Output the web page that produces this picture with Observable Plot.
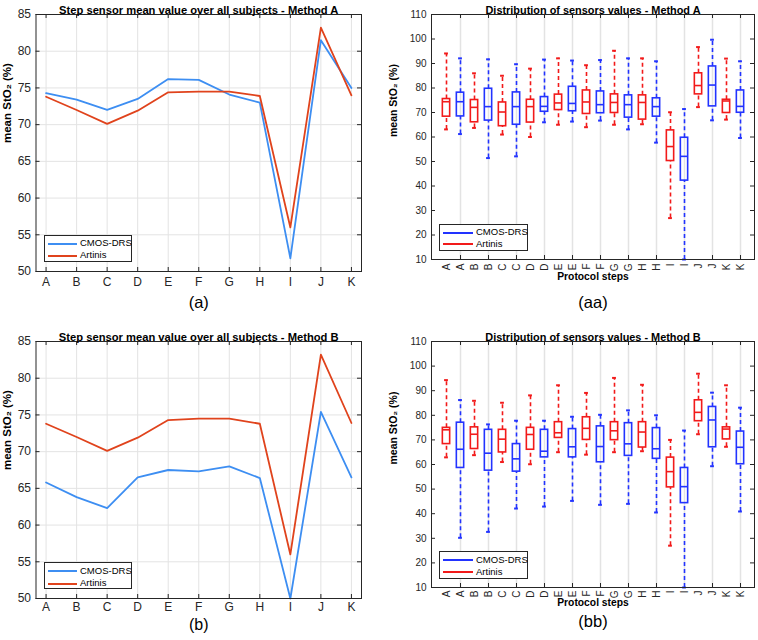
<!DOCTYPE html>
<html><head><meta charset="utf-8">
<script src="https://cdn.jsdelivr.net/npm/d3@7"></script>
<script src="https://cdn.jsdelivr.net/npm/@observablehq/plot@0.6"></script>
<style>
body{margin:0;background:#fff;font-family:"Liberation Sans",Arial,sans-serif}
#root{position:relative;width:758px;height:640px;overflow:hidden;background:#fff}
.panel{position:absolute}
.legend{position:absolute;border:1px solid #262626;background:#fff;box-sizing:border-box;font-size:9.5px;color:#000}
.legend .ln{position:absolute;height:0}
.legend .tx{position:absolute;line-height:1;white-space:nowrap}
</style></head><body><div id="root"></div>
<script>
// ---------- data ----------
const steps = ["A","B","C","D","E","F","G","H","I","J","K"];
const cmosMeanA    = [74.3,73.4,72.0,73.5,76.2,76.1,74.1,73.0,51.8,81.5,75.0];
const artinisMeanA = [73.8,72.0,70.1,71.9,74.4,74.5,74.5,73.9,56.0,83.2,74.0];
const cmosMeanB    = [65.8,63.8,62.3,66.5,67.5,67.3,68.0,66.4,50.0,75.4,66.5];
const artinisMeanB = [73.8,72.0,70.1,71.9,74.3,74.5,74.5,73.8,56.0,83.2,73.9];
// box stats per step: [lower whisker, q1, median, q3, upper whisker]
const artinisBoxA = [[63.1,68.3,74.4,75.5,94.1],[63.7,66.0,72.1,75.1,86.0],[61.0,64.4,70.2,74.1,85.0],[60.0,65.9,72.4,75.2,87.9],[65.0,71.0,73.9,77.3,92.1],[64.0,69.4,74.3,79.0,89.3],[65.0,69.8,74.1,77.4,95.2],[65.2,67.1,74.1,77.0,92.1],[26.9,50.2,56.1,62.7,70.1],[72.2,77.4,81.0,86.0,96.7],[67.1,69.8,74.7,75.2,92.0]];
const cmosBoxA    = [[61.2,68.4,74.4,78.1,92.1],[51.4,66.7,72.4,79.7,91.7],[52.1,65.0,72.4,78.2,89.7],[66.0,70.3,72.5,76.3,91.6],[66.3,70.5,73.7,80.5,91.2],[66.7,69.7,73.2,78.6,91.4],[63.1,67.9,73.2,77.0,92.1],[57.7,68.3,72.4,75.8,90.9],[10.0,42.2,52.1,59.7,71.4],[66.8,72.5,81.2,88.8,99.7],[59.6,69.9,72.5,79.0,90.9]];
const artinisBoxB = [[62.9,68.3,74.1,74.9,94.3],[63.8,66.3,72.3,75.1,85.9],[61.0,64.9,70.3,74.1,85.1],[60.1,66.0,72.2,74.9,88.1],[65.0,70.8,72.9,77.2,92.2],[64.0,70.0,74.7,79.2,89.1],[65.0,69.9,73.7,77.2,95.2],[65.4,66.9,73.2,77.2,92.4],[27.0,50.7,57.1,62.8,70.0],[72.3,77.6,81.2,86.1,96.9],[67.2,70.2,74.4,75.1,92.2]];
const cmosBoxB    = [[30.2,58.6,66.2,77.0,86.2],[32.6,57.5,64.6,74.1,76.3],[42.1,57.1,62.3,68.3,77.8],[42.9,62.9,65.4,74.1,77.8],[45.2,62.9,67.2,74.4,79.4],[43.6,60.9,67.3,75.5,80.2],[44.0,63.5,68.4,76.8,82.0],[40.5,62.3,66.4,74.8,80.0],[10.0,44.3,51.0,58.6,73.8],[59.3,67.0,78.1,83.4,89.2],[40.9,60.1,67.0,73.4,83.1]];
const lineTicks = [50,55,60,65,70,75,80,85];
const boxTicks = [10,20,30,40,50,60,70,80,90,100,110];
const seriesNames = ["CMOS-DRS","Artinis"];

// ---------- style ----------
const lineBlue = "#3d8ef2", lineRed = "#e0431c";
const boxBlue = "#2233ff", boxRed = "#f21a1a";
const ink = "#262626", gridC = "#e3e3e3";
const FONT = "Liberation Sans, Arial, sans-serif";
const W = 379, H = 320;
const root = document.getElementById("root");

function place(node, left, top) {
  node.classList.add("panel");
  node.style.left = left + "px"; node.style.top = top + "px";
  root.appendChild(node);
}
function legend(left, top, w, h, colors, lineX, lineW, textX, rowOff) {
  const d = document.createElement("div");
  d.className = "legend";
  Object.assign(d.style, {left: left+"px", top: top+"px", width: w+"px", height: h+"px"});
  seriesNames.forEach((n, k) => {
    const l = document.createElement("div"); l.className = "ln";
    Object.assign(l.style, {left: lineX+"px", top: (rowOff[k]-1)+"px", width: lineW+"px", borderTop: "2px solid " + colors[k]});
    const t = document.createElement("div"); t.className = "tx"; t.textContent = n;
    Object.assign(t.style, {left: textX+"px", top: (rowOff[k]-5.5)+"px"});
    d.appendChild(l); d.appendChild(t);
  });
  root.appendChild(d);
}

function linePanel({cmos, art, title, cap, mt, mb, titleY, capY, tickPad, capSize}) {
  const ml = 35.5, mr = 18;
  const iw = W - ml - mr, ih = H - mt - mb;
  const idx = d3.range(steps.length);
  const cm = idx.map(i => ({i, v: cmos[i]}));
  const ar = idx.map(i => ({i, v: art[i]}));
  return Plot.plot({
    width: W, height: H, marginLeft: ml, marginRight: mr, marginTop: mt, marginBottom: mb,
    style: {fontFamily: FONT, fontSize: "12px", background: "transparent", color: ink, overflow: "visible"},
    x: {type: "linear", domain: [-0.33, 10.33]},
    y: {domain: [50, 85]},
    marks: [
      Plot.gridX(idx, {stroke: gridC, strokeOpacity: 1}),
      Plot.gridY(lineTicks, {stroke: gridC, strokeOpacity: 1}),
      Plot.axisX(idx, {tickFormat: i => steps[i], tickSize: 0, tickPadding: tickPad, label: null, fontSize: 12}),
      Plot.axisY(lineTicks, {tickSize: 0, tickPadding: 5, label: null, fontSize: 12}),
      Plot.ruleY(lineTicks, {y: d => d, insetRight: iw - 4, stroke: ink}),
      Plot.ruleY(lineTicks, {y: d => d, insetLeft: iw - 4, stroke: ink}),
      Plot.ruleX(idx, {x: d => d, insetTop: ih - 4, stroke: ink}),
      Plot.ruleX(idx, {x: d => d, insetBottom: ih - 4, stroke: ink}),
      Plot.line(cm, {x: "i", y: "v", stroke: lineBlue, strokeWidth: 1.8}),
      Plot.line(ar, {x: "i", y: "v", stroke: lineRed, strokeWidth: 1.8}),
      Plot.frame({stroke: ink}),
      Plot.text([title], {frameAnchor: "top", dy: titleY - mt, fontWeight: "bold", fontSize: 11.2, fill: "#000"}),
      Plot.text(["mean StO₂ (%)"], {frameAnchor: "left", dx: 7 - ml, rotate: -90, fontWeight: "bold", fontSize: 11.5, fill: "#000"}),
      Plot.text([cap], {frameAnchor: "bottom", dy: capY - (H - mb), fontSize: capSize, fill: "#000"})
    ]
  });
}

function boxPanel({cmos, art, title, cap, mt, mb, titleY, capY, xlabY, tickPad}) {
  const ml = 52, mr = 4;
  const iw = W - ml - mr, ih = H - mt - mb;
  const rows = [];
  steps.forEach((s, k) => {
    const a = art[k], c = cmos[k];
    rows.push({i: 2*k, lab: s, col: boxRed, lo: a[0], q1: a[1], med: a[2], q3: a[3], hi: a[4]});
    rows.push({i: 2*k+1, lab: s, col: boxBlue, lo: c[0], q1: c[1], med: c[2], q3: c[3], hi: c[4]});
  });
  const all = rows.map(r => r.i);
  const odd = all.filter(i => i % 2 === 1);
  const bw = iw / rows.length;
  const boxIn = (bw - 8) / 2, capIn = (bw - 4.5) / 2;
  return Plot.plot({
    width: W, height: H, marginLeft: ml, marginRight: mr, marginTop: mt, marginBottom: mb,
    style: {fontFamily: FONT, fontSize: "10px", background: "transparent", color: ink, overflow: "visible"},
    x: {type: "band", domain: all, padding: 0},
    y: {domain: [10, 110]},
    color: {type: "identity"},
    marks: [
      Plot.gridX(odd, {stroke: gridC, strokeOpacity: 1, strokeWidth: 1.5}),
      Plot.axisX(all, {tickFormat: i => rows[i].lab, tickRotate: -90, tickSize: 0, tickPadding: tickPad, label: null, fontSize: 10}),
      Plot.axisY(boxTicks, {tickSize: 0, tickPadding: 5, label: null, fontSize: 10}),
      Plot.ruleY(boxTicks, {y: d => d, insetRight: iw - 4, stroke: ink}),
      Plot.ruleY(boxTicks, {y: d => d, insetLeft: iw - 4, stroke: ink}),
      Plot.ruleX(odd, {x: d => d, insetTop: ih - 4, stroke: ink}),
      Plot.ruleX(odd, {x: d => d, insetBottom: ih - 4, stroke: ink}),
      Plot.ruleX(rows, {x: "i", y1: "q3", y2: "hi", stroke: "col", strokeWidth: 1.6, strokeDasharray: "4,3"}),
      Plot.ruleX(rows, {x: "i", y1: "lo", y2: "q1", stroke: "col", strokeWidth: 1.6, strokeDasharray: "4,3"}),
      Plot.tickY(rows, {x: "i", y: "hi", stroke: "col", strokeWidth: 2, insetLeft: capIn, insetRight: capIn}),
      Plot.tickY(rows, {x: "i", y: "lo", stroke: "col", strokeWidth: 2, insetLeft: capIn, insetRight: capIn}),
      Plot.barY(rows, {x: "i", y1: "q1", y2: "q3", fill: "none", stroke: "col", strokeWidth: 1.6, insetLeft: boxIn, insetRight: boxIn}),
      Plot.tickY(rows, {x: "i", y: "med", stroke: "col", strokeWidth: 1.6, insetLeft: boxIn, insetRight: boxIn}),
      Plot.frame({stroke: ink}),
      Plot.text([title], {frameAnchor: "top", dy: titleY - mt, fontWeight: "bold", fontSize: 10.9, fill: "#000"}),
      Plot.text(["mean StO₂ (%)"], {frameAnchor: "left", dx: 14 - ml, rotate: -90, fontWeight: "bold", fontSize: 10.5, fill: "#000"}),
      Plot.text(["Protocol steps"], {frameAnchor: "bottom", dy: xlabY - (H - mb), fontWeight: "bold", fontSize: 10.3, fill: "#000"}),
      Plot.text([cap], {frameAnchor: "bottom", dy: capY - (H - mb), fontSize: 16.5, fill: "#000"})
    ]
  });
}

place(linePanel({cmos: cmosMeanA, art: artinisMeanA, title: "Step sensor mean value over all subjects - Method A", cap: "(a)", mt: 14, mb: 49, titleY: 5.5, capY: 307, tickPad: 6, capSize: 16.5}), 0, 0);
place(boxPanel({cmos: cmosBoxA, art: artinisBoxA, title: "Distribution of sensors values - Method A", cap: "(aa)", mt: 14, mb: 61, titleY: 5.5, capY: 307, xlabY: 279.5, tickPad: 4}), 379, 0);
place(linePanel({cmos: cmosMeanB, art: artinisMeanB, title: "Step sensor mean value over all subjects - Method B", cap: "(b)", mt: 21, mb: 42, titleY: 12.5, capY: 309, tickPad: 4, capSize: 16}), 0, 320);
place(boxPanel({cmos: cmosBoxB, art: artinisBoxB, title: "Distribution of sensors values - Method B", cap: "(bb)", mt: 21, mb: 53, titleY: 12.5, capY: 306, xlabY: 285, tickPad: 3}), 379, 320);

legend(44, 235, 88, 27, [lineBlue, lineRed], 3, 29, 35, [7.8, 19.5]);
legend(44, 562, 88, 27, [lineBlue, lineRed], 3, 29, 35, [8, 20.5]);
legend(439, 224, 89, 27, [boxBlue, boxRed], 3, 30, 36, [7.8, 19.3]);
legend(439, 551, 89, 28, [boxBlue, boxRed], 3, 30, 36, [8, 20]);
</script></body></html>
